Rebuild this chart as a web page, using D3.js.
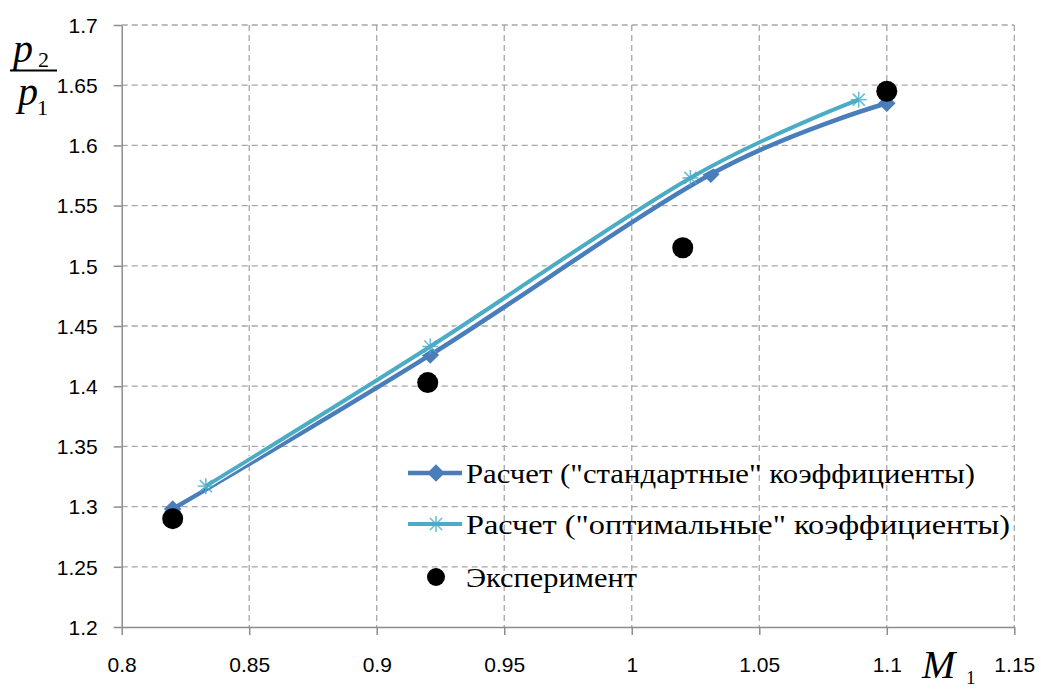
<!DOCTYPE html>
<html><head><meta charset="utf-8">
<script src="https://cdn.jsdelivr.net/npm/d3@7"></script>
<style>body{margin:0;background:#fff}svg{display:block}</style>
</head><body>
<svg id="c" width="1041" height="690"></svg>
<script>
const xTicks = [0.8,0.85,0.9,0.95,1,1.05,1.1,1.15];
const xTickLabels = ["0.8","0.85","0.9","0.95","1","1.05","1.1","1.15"];
const yTicks = [1.2,1.25,1.3,1.35,1.4,1.45,1.5,1.55,1.6,1.65,1.7];
const yTickLabels = ["1.2","1.25","1.3","1.35","1.4","1.45","1.5","1.55","1.6","1.65","1.7"];

const stdM = [0.82, 0.921, 1.031, 1.1];
const stdP = [1.298, 1.426, 1.576, 1.635];
const optM = [0.833, 0.921, 1.023, 1.089];
const optP = [1.317, 1.433, 1.573, 1.638];
const expM = [0.82, 0.92, 1.02, 1.1];
const expP = [1.29, 1.403, 1.515, 1.645];

const seriesNames = ['Расчет ("стандартные" коэффициенты)','Расчет ("оптимальные" коэффициенты)','Эксперимент'];

const svg = d3.select("#c");
const L = 121.7, R = 1014.3, T = 25, B = 627;
const x = d3.scaleLinear().domain([0.8,1.15]).range([L,R]);
const y = d3.scaleLinear().domain([1.2,1.7]).range([B,T]);
const cStd = "#4a7ebb", cOpt = "#4bacc6";
const serif = "'Liberation Serif', 'Times New Roman', 'DejaVu Serif', serif";

// grid
const g = svg.append("g");
g.selectAll("line.gy").data(yTicks.slice(1)).join("line")
  .attr("x1",L).attr("x2",R).attr("y1",d=>y(d)).attr("y2",d=>y(d))
  .attr("stroke","#a6a6a6").attr("stroke-width",1.3).attr("stroke-dasharray","6,4");
g.selectAll("line.gx").data(xTicks.slice(1)).join("line")
  .attr("y1",T).attr("y2",B).attr("x1",d=>x(d)).attr("x2",d=>x(d))
  .attr("stroke","#a6a6a6").attr("stroke-width",1.3).attr("stroke-dasharray","6,4");

// axes
const xAxis = d3.axisBottom(x).tickValues(xTicks).tickFormat((d,i)=>xTickLabels[i]).tickSizeInner(8).tickSizeOuter(0).tickPadding(22);
const yAxis = d3.axisLeft(y).tickValues(yTicks).tickFormat((d,i)=>yTickLabels[i]).tickSizeInner(8).tickSizeOuter(0).tickPadding(16);
const ax = svg.append("g").attr("transform",`translate(0,${B})`).call(xAxis);
const ay = svg.append("g").attr("transform",`translate(${L},0)`).call(yAxis);
[ax,ay].forEach(a=>{
  a.select(".domain").attr("stroke","#8c8c8c").attr("stroke-width",1.5);
  a.selectAll(".tick line").attr("stroke","#8c8c8c").attr("stroke-width",1.5);
  a.selectAll(".tick text").attr("font-family","'Liberation Sans', Arial, sans-serif").attr("font-size",21).attr("fill","#000");
});
ay.selectAll(".tick text").attr("dy","0.35em");

// lines
const line = d3.line().x(d=>x(d[0])).y(d=>y(d[1])).curve(d3.curveCatmullRom.alpha(0));
const stdData = stdM.map((m,i)=>[m,stdP[i]]);
const optData = optM.map((m,i)=>[m,optP[i]]);
const expData = expM.map((m,i)=>[m,expP[i]]);

svg.append("path").attr("d",line(stdData)).attr("fill","none").attr("stroke",cStd).attr("stroke-width",4.5);
function diamond(sel,cx,cy){
  sel.append("rect").attr("x",-6.2).attr("y",-6.2).attr("width",12.4).attr("height",12.4)
    .attr("transform",`translate(${cx},${cy}) rotate(45)`).attr("fill",cStd);
}
stdData.forEach(d=>diamond(svg,x(d[0]),y(d[1])));

svg.append("path").attr("d",line(optData)).attr("fill","none").attr("stroke","#fff").attr("stroke-width",6);
svg.append("path").attr("d",line(optData)).attr("fill","none").attr("stroke",cOpt).attr("stroke-width",4);
function star(sel,cx,cy){
  const s=8, gg=sel.append("g").attr("transform",`translate(${cx},${cy})`)
    .attr("stroke",cOpt).attr("stroke-width",1.6).attr("opacity",0.8);
  gg.append("line").attr("x1",0).attr("x2",0).attr("y1",-s).attr("y2",s);
  gg.append("line").attr("x1",-s).attr("x2",s).attr("y1",0).attr("y2",0);
  gg.append("line").attr("x1",-s*0.75).attr("x2",s*0.75).attr("y1",-s*0.75).attr("y2",s*0.75);
  gg.append("line").attr("x1",-s*0.75).attr("x2",s*0.75).attr("y1",s*0.75).attr("y2",-s*0.75);
}
optData.forEach(d=>star(svg,x(d[0]),y(d[1])));

svg.selectAll("circle.e").data(expData).join("circle")
  .attr("cx",d=>x(d[0])).attr("cy",d=>y(d[1])).attr("r",10.5).attr("fill","#000");

// legend
const lg = svg.append("g");
const rows = [473, 524, 577];
const lens = [509, 544, 171];
lg.append("line").attr("x1",408).attr("x2",462).attr("y1",rows[0]).attr("y2",rows[0]).attr("stroke",cStd).attr("stroke-width",4.5);
diamond(lg,436,rows[0]);
lg.append("line").attr("x1",408).attr("x2",462).attr("y1",rows[1]).attr("y2",rows[1]).attr("stroke",cOpt).attr("stroke-width",4);
star(lg,436,rows[1]);
lg.append("circle").attr("cx",436).attr("cy",rows[2]).attr("r",9).attr("fill","#000");
seriesNames.forEach((n,i)=>{
  lg.append("text").attr("x",466).attr("y",rows[i]+10).text(n)
    .attr("font-family",serif).attr("font-size",28)
    .attr("textLength",lens[i]).attr("lengthAdjust","spacingAndGlyphs").attr("fill","#000");
});

// axis titles
const yl = svg.append("g").attr("font-family",serif).attr("fill","#000");
yl.append("text").attr("x",13).attr("y",62).attr("font-size",40).attr("font-style","italic").text("p");
yl.append("text").attr("x",38).attr("y",67).attr("font-size",22).text("2");
yl.append("line").attr("x1",10).attr("x2",57).attr("y1",70.5).attr("y2",70.5).attr("stroke","#000").attr("stroke-width",2);
yl.append("text").attr("x",18).attr("y",105).attr("font-size",40).attr("font-style","italic").text("p");
yl.append("text").attr("x",37).attr("y",115).attr("font-size",22).text("1");

const xl = svg.append("g").attr("font-family",serif).attr("fill","#000");
xl.append("text").attr("x",922).attr("y",678).attr("font-size",40).attr("font-style","italic").text("M");
xl.append("text").attr("x",966).attr("y",684).attr("font-size",19).text("1");
</script>
</body></html>
